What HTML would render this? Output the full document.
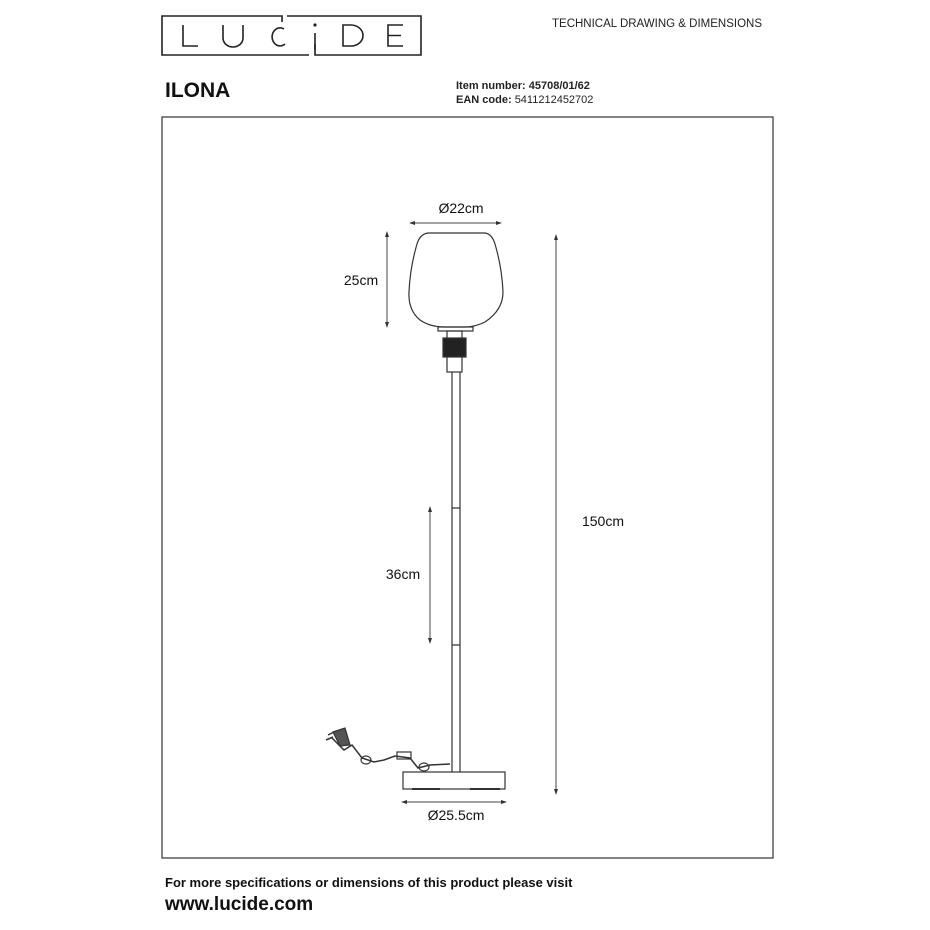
<!DOCTYPE html><html><head><style>body{margin:0;background:#fff}svg{display:block}</style></head><body>
<svg width="930" height="930" viewBox="0 0 930 930" font-family="Liberation Sans, sans-serif">
<defs><marker id="a" markerWidth="8" markerHeight="8" refX="4" refY="4" orient="auto-start-reverse"><path d="M0,2 L6,4 L0,6z" fill="#333"/></marker></defs>
<g fill="none" stroke="#222" stroke-width="1.6">
<path d="M282,22 V16 H162 V55 H309"/>
<path d="M287,16 H421 V55 H315 V44"/>
<path d="M183,25 V46 H198"/>
<path d="M223,25 V38 A10,9 0 0 0 243,38 V25"/>
<path d="M284,29 A8,9 0 1 0 285,44"/>
<path d="M315,33 V50"/>
<path d="M343,25 V46 H351 A12,10.5 0 0 0 351,25 Z"/>
<path d="M403,25 H388 V46 H403 M388,35.5 H401"/>
</g>
<circle cx="315" cy="25" r="1.6" fill="#222"/>
<text x="552" y="27" font-size="11.5" fill="#222">TECHNICAL DRAWING &amp; DIMENSIONS</text>
<text x="165" y="97" font-size="21" font-weight="bold" fill="#111">ILONA</text>
<text x="456" y="89" font-size="11" font-weight="bold" fill="#222">Item number: 45708/01/62</text>
<text x="456" y="103" font-size="11" font-weight="bold" fill="#222">EAN code: <tspan font-weight="normal">5411212452702</tspan></text>
<rect x="162" y="117" width="611" height="741" fill="none" stroke="#333" stroke-width="1.2"/>
<g stroke="#333" fill="none" stroke-width="1.2">
<path d="M428,233 H485 Q492,234 495,244 Q502,268 503,292 Q503,310 485,322 Q475,327 465,327 H445 Q430,327 420,320 Q408,310 409,292 Q410,268 417,244 Q420,234 428,233 Z"/>
<rect x="438" y="327" width="35" height="4"/>
<rect x="447" y="331" width="15" height="41"/>
<rect x="443" y="338" width="23" height="19" fill="#222"/>
<path d="M452,372 V772 M460,372 V772 M452,508 H460 M452,645 H460"/>
<rect x="403" y="772" width="102" height="17"/>
<path d="M412,789 H440 M470,789 H500" stroke-width="2"/>
<path d="M332,738 L344,750 L352,745 L362,758 L374,762 L384,760 L395,756 L410,758 L418,768 L430,765 L450,764" stroke-width="1.5"/>
<rect x="397" y="752" width="14" height="7"/>
<ellipse cx="366" cy="760" rx="5" ry="4"/><ellipse cx="424" cy="767" rx="5" ry="4"/>
<path d="M328,735 L336,731 M326,740 L333,737" stroke-width="1.5"/>
<path d="M333,732 L345,728 L350,745 L340,746 Z" fill="#555"/>
</g>
<g stroke="#444" stroke-width="1" marker-start="url(#a)" marker-end="url(#a)">
<line x1="411" y1="223" x2="500" y2="223"/>
<line x1="387" y1="233" x2="387" y2="326"/>
<line x1="556" y1="236" x2="556" y2="793"/>
<line x1="430" y1="508" x2="430" y2="642"/>
<line x1="403" y1="802" x2="505" y2="802"/>
</g>
<g font-size="14" fill="#111" text-anchor="middle">
<text x="461" y="213">Ø22cm</text>
<text x="361" y="285">25cm</text>
<text x="603" y="526">150cm</text>
<text x="403" y="579">36cm</text>
<text x="456" y="820">Ø25.5cm</text>
</g>
<text x="165" y="887" font-size="13" font-weight="bold" fill="#111">For more specifications or dimensions of this product please visit</text>
<text x="165" y="910" font-size="19" font-weight="bold" fill="#111">www.lucide.com</text>
</svg></body></html>
